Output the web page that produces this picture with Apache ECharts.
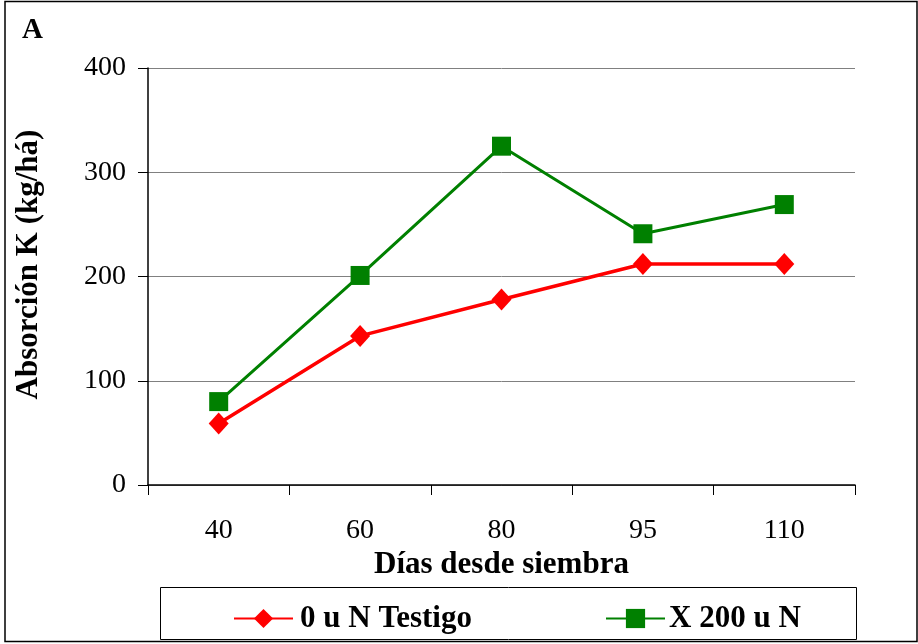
<!DOCTYPE html>
<html>
<head>
<meta charset="utf-8">
<script src="https://cdn.jsdelivr.net/npm/echarts@6/dist/echarts.min.js"></script>
<style>html,body{margin:0;padding:0;background:#fff}#c{width:918px;height:644px}</style>
</head>
<body>
<div id="c"></div>
<script>
var categories = ['40', '60', '80', '95', '110'];
var testigo = [59, 143, 178, 212, 212];
var n200 = [80, 201, 325, 241, 269];
var yTicks = [0, 100, 200, 300, 400];
var seriesNames = ['0 u N Testigo', 'X 200 u N'];

var FONT = 'Liberation Serif';
var chart = echarts.init(document.getElementById('c'), null, {renderer: 'canvas'});
chart.setOption({
  animation: false,
  backgroundColor: '#fff',
  grid: {left: 148, right: 63, top: 68, bottom: 159, containLabel: false},
  graphic: [
    {type: 'rect', shape: {x: 5, y: 1.5, width: 912, height: 640}, style: {fill: 'none', stroke: '#000', lineWidth: 1.5}, silent: true},
    {type: 'rect', shape: {x: 160.5, y: 587.5, width: 696, height: 52}, style: {fill: 'none', stroke: '#000', lineWidth: 1}, silent: true},
    {type: 'text', left: 22, top: 16, style: {text: 'A', font: 'bold 29px "Liberation Serif"', fill: '#000'}}
  ],
  legend: [
    {data: [seriesNames[0]], left: 228, top: 598, itemWidth: 59, itemHeight: 24, itemGap: 0,
     textStyle: {fontFamily: FONT, fontWeight: 'bold', fontSize: 31, color: '#000', padding: [0, 0, 0, 2]}},
    {data: [seriesNames[1]], left: 600, top: 598, itemWidth: 59, itemHeight: 24, itemGap: 0,
     textStyle: {fontFamily: FONT, fontWeight: 'bold', fontSize: 31, color: '#000', padding: [0, 0, 0, -1]}}
  ],
  xAxis: {
    type: 'category',
    data: categories,
    boundaryGap: true,
    name: 'Días desde siembra',
    nameLocation: 'middle',
    nameGap: 60,
    nameTextStyle: {fontFamily: FONT, fontWeight: 'bold', fontSize: 31, color: '#000'},
    axisLine: {show: true, lineStyle: {color: '#000', width: 1.5}},
    axisTick: {show: true, length: 10, inside: false, alignWithLabel: false, lineStyle: {color: '#000', width: 1}},
    axisLabel: {fontFamily: FONT, fontSize: 28, color: '#000', margin: 32},
    splitLine: {show: false}
  },
  yAxis: {
    type: 'value',
    min: yTicks[0],
    max: yTicks[yTicks.length - 1],
    interval: 100,
    name: 'Absorción K (kg/há)',
    nameLocation: 'middle',
    nameGap: 104,
    nameRotate: 90,
    nameTextStyle: {fontFamily: FONT, fontWeight: 'bold', fontSize: 31, color: '#000', padding: [0, 0, 0, 24]},
    axisLine: {show: true, lineStyle: {color: '#000', width: 1.5}},
    axisTick: {show: true, length: 10, inside: false, lineStyle: {color: '#000', width: 1}},
    axisLabel: {fontFamily: FONT, fontSize: 28, color: '#000', margin: 22},
    splitLine: {show: true, lineStyle: {color: '#808080', width: 1}}
  },
  series: [
    {
      name: seriesNames[0], type: 'line', data: testigo,
      symbol: 'diamond', symbolSize: [20, 22],
      lineStyle: {color: '#ff0000', width: 3.5},
      itemStyle: {color: '#ff0000'},
      z: 3
    },
    {
      name: seriesNames[1], type: 'line', data: n200,
      symbol: 'rect', symbolSize: [19, 19],
      lineStyle: {color: '#008000', width: 3},
      itemStyle: {color: '#008000'},
      z: 2
    }
  ]
});
</script>
</body>
</html>
